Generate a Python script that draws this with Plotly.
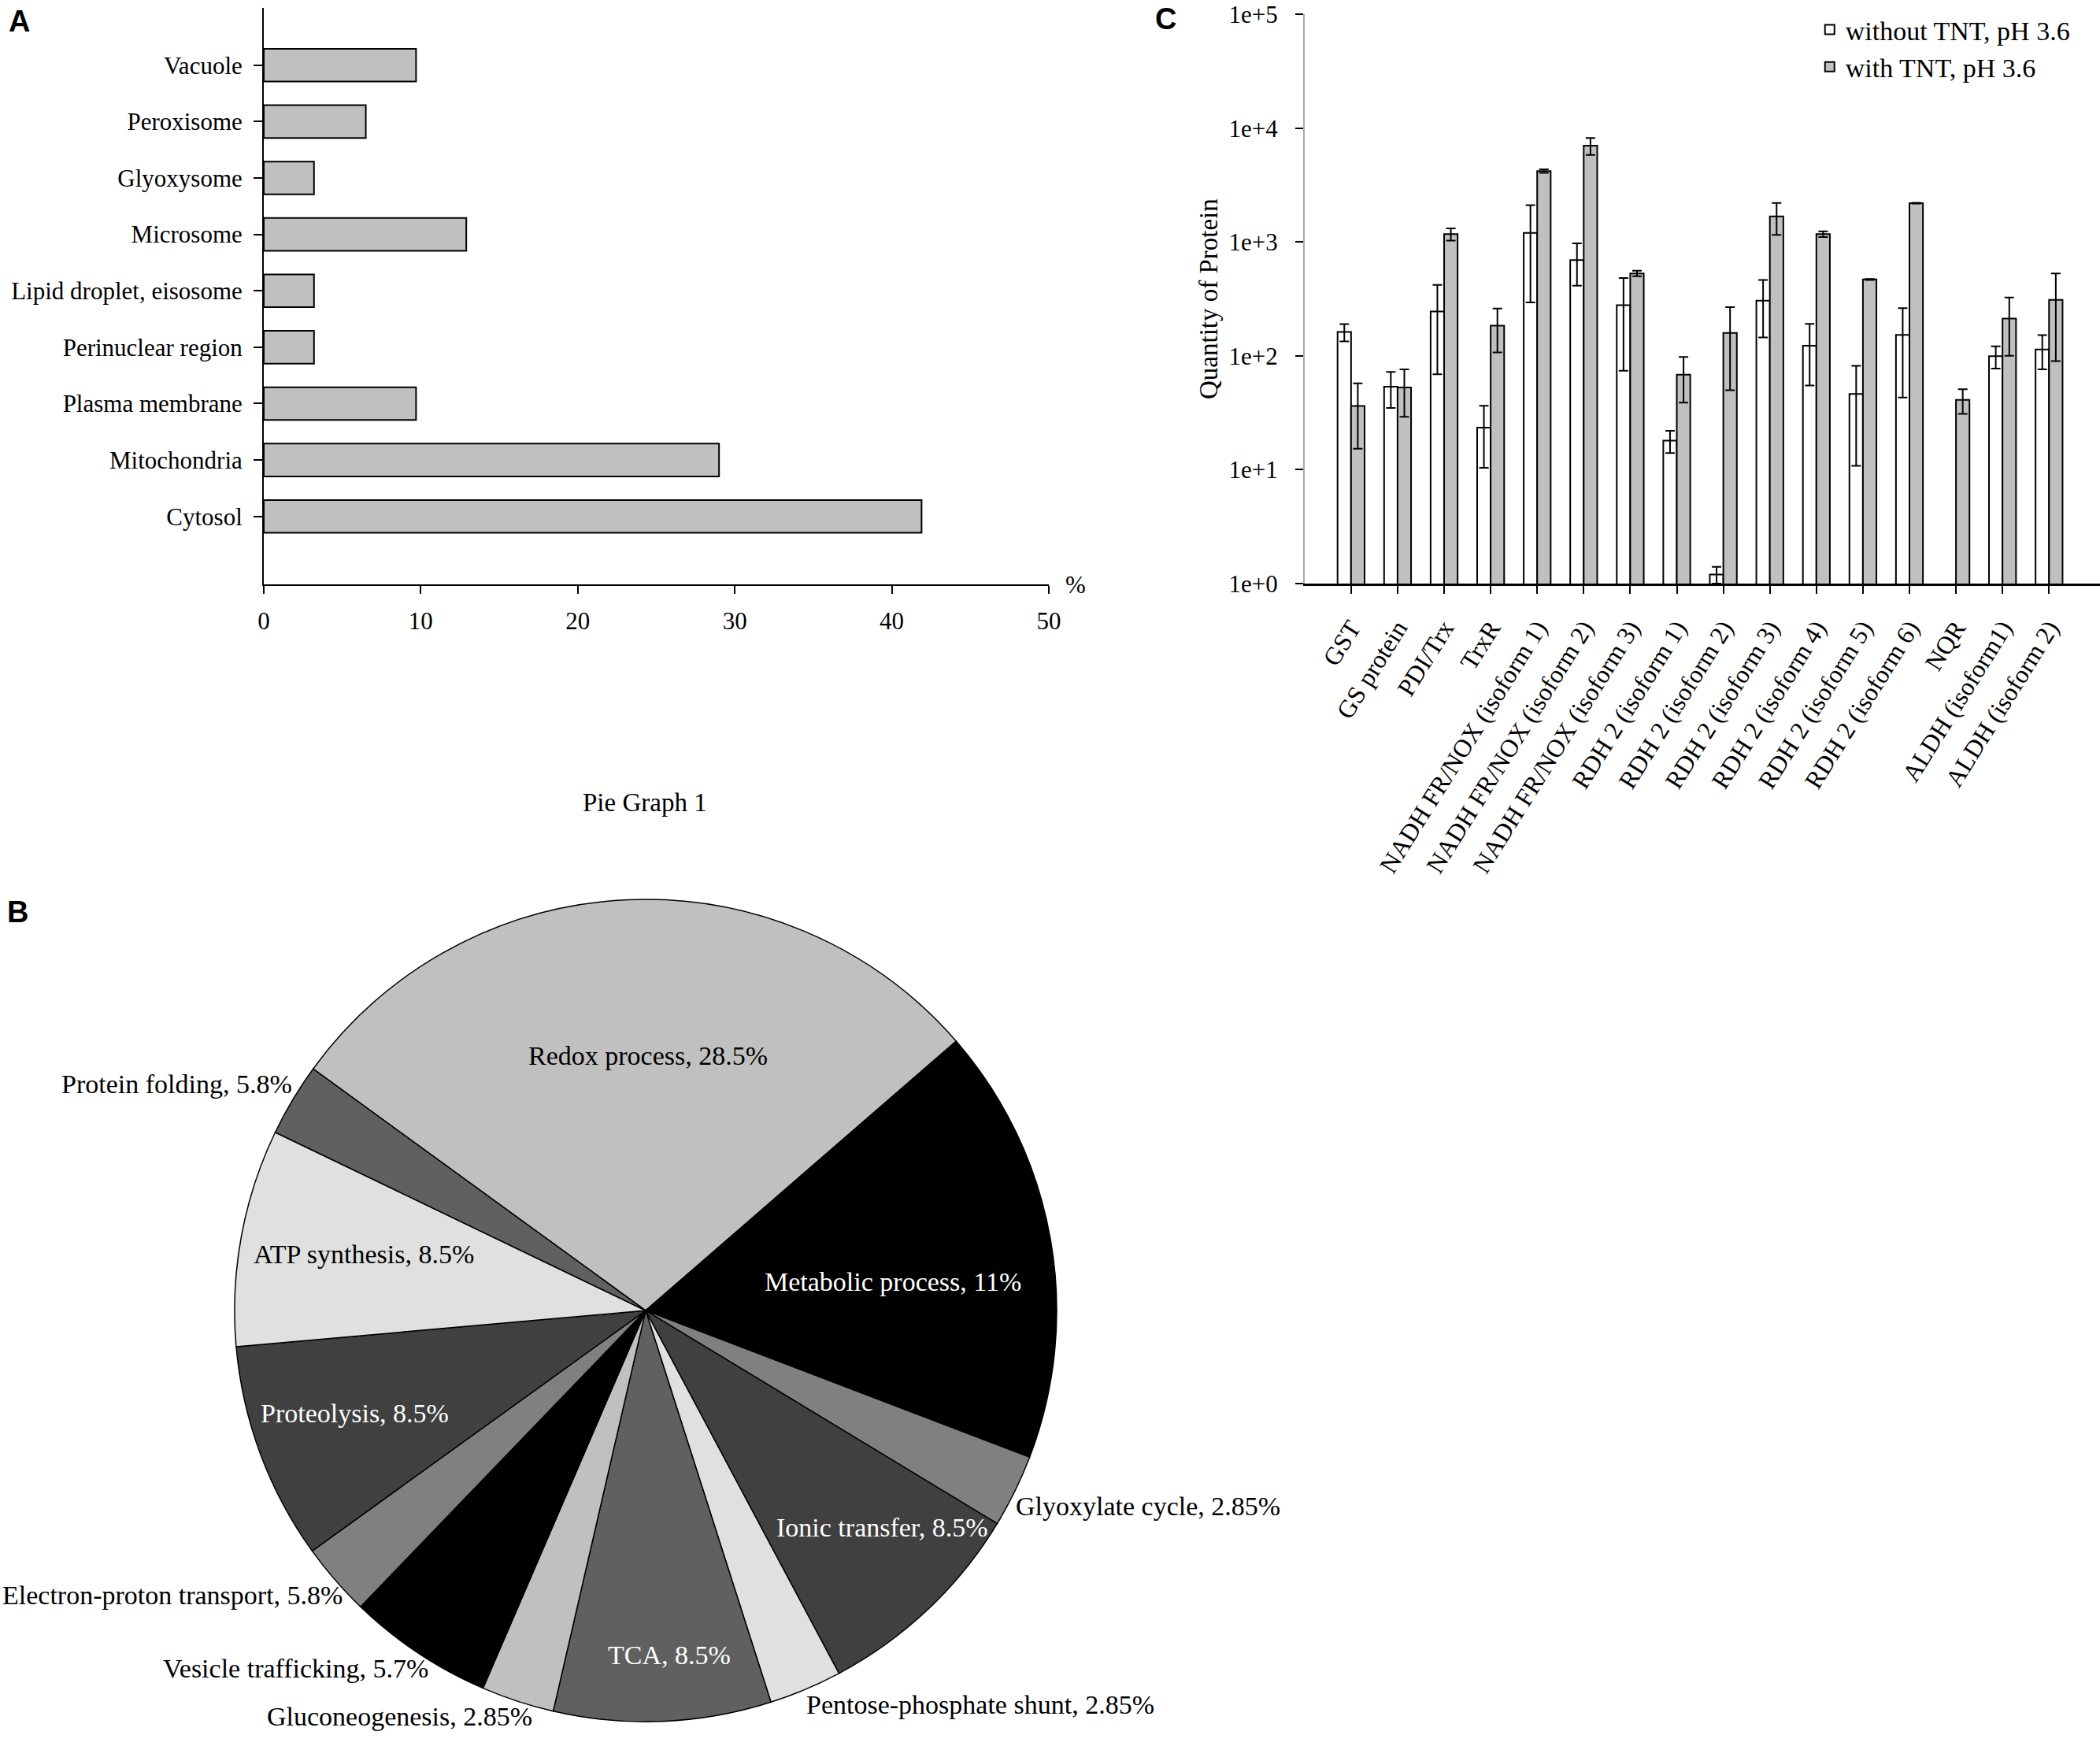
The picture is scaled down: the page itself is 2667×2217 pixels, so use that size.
import math
import plotly.graph_objects as go

# ---- Panel A: subcellular localisation of the proteins (%)
locations = ["Cytosol", "Mitochondria", "Plasma membrane", "Perinuclear region",
             "Lipid droplet, eisosome", "Microsome", "Glyoxysome", "Peroxisome", "Vacuole"]
location_pct = [41.9, 29.0, 9.7, 3.2, 3.2, 12.9, 3.2, 6.5, 9.7]

# ---- Panel B: biological process (slice sizes as drawn, labels as printed)
processes = ["Redox process", "Metabolic process", "Glyoxylate cycle", "Ionic transfer",
             "Pentose-phosphate shunt", "TCA", "Gluconeogenesis", "Vesicle trafficking",
             "Electron-proton transport", "Proteolysis", "ATP synthesis", "Protein folding"]
process_share = [28.5, 17.1, 2.85, 8.5, 2.85, 8.5, 2.85, 5.7, 2.85, 8.5, 8.5, 2.85]
process_labels = ["Redox process, 28.5%", "Metabolic process, 11%", "Glyoxylate cycle, 2.85%",
                  "Ionic transfer, 8.5%", "Pentose-phosphate shunt, 2.85%", "TCA, 8.5%",
                  "Gluconeogenesis, 2.85%", "Vesicle trafficking, 5.7%",
                  "Electron-proton transport, 5.8%", "Proteolysis, 8.5%",
                  "ATP synthesis, 8.5%", "Protein folding, 5.8%"]

# ---- Panel C: quantity of protein, mean and error
proteins = ["GST", "GS protein", "PDI/Trx", "TrxR",
            "NADH FR/NOX (isoform 1)", "NADH FR/NOX (isoform 2)", "NADH FR/NOX (isoform 3)",
            "RDH 2 (isoform 1)", "RDH 2 (isoform 2)", "RDH 2 (isoform 3)", "RDH 2 (isoform 4)",
            "RDH 2 (isoform 5)", "RDH 2 (isoform 6)", "NQR", "ALDH (isoform1)", "ALDH (isoform 2)"]
without_tnt = [162, 53.6, 245, 23.4, 1203, 693, 279, 18.0, 1.2, 305, 123, 46.3, 153, None, 99.3, 114]
without_err = [28, 18.7, 176, 13, 908, 280, 205, 4, 0.2, 160, 68, 35.5, 110, None, 22, 38]
with_tnt = [36.3, 52.7, 1175, 184, 4205, 7018, 530, 68.4, 159, 1679, 1175, 469, 2196, 41, 213, 310]
with_err = [21, 23.5, 145, 77, 150, 1200, 30, 29.6, 109, 525, 67, 5, 15, 10, 113, 220]
decade_ticks = [1, 10, 100, 1000, 10000, 100000]
decade_text = ["1e+0", "1e+1", "1e+2", "1e+3", "1e+4", "1e+5"]

W, H = 2667, 2217
serif = "Liberation Serif"
sans = "Liberation Sans"
grey = "#c0c0c0"
pie_colors = ["#c0c0c0", "#000000", "#808080", "#404040", "#e0e0e0", "#606060"] * 2
pie_textcol = ["black", "white", "black", "white", "black", "white",
               "black", "black", "black", "white", "black", "black"]
# big slices: label inside at (radial fraction, angle tweak in degrees)
inside_place = {0: (0.62, -3.0), 1: (0.605, -3.3), 3: (0.78, 4.1),
                5: (0.84, 1.6), 9: (0.75, -0.9), 10: (0.70, -0.9)}
# small slices: label hangs off the rim; optional x nudge in px
outside_nudge = {6: 20, 7: 14, 8: 10}
pie_dom_x = [0.1117, 0.5032]
pie_dom_y = [0.0139, 0.4849]
pie_rotation = -54

fig = go.Figure()

fig.add_trace(go.Bar(
    x=location_pct, y=locations, orientation="h",
    marker=dict(color=grey, line=dict(color="black", width=2)),
    xaxis="x", yaxis="y", showlegend=False, hoverinfo="x+y",
))

fig.add_trace(go.Pie(
    labels=processes, values=process_share, textinfo="none", sort=False,
    direction="clockwise", rotation=pie_rotation,
    marker=dict(colors=pie_colors, line=dict(color="black", width=1.5)),
    domain=dict(x=pie_dom_x, y=pie_dom_y),
    showlegend=False, hoverinfo="label+percent",
))

fig.add_trace(go.Bar(
    x=proteins, y=without_tnt, name="without TNT, pH 3.6",
    marker=dict(color="white", line=dict(color="black", width=2)),
    error_y=dict(type="data", array=without_err, color="black", thickness=2, width=6),
    xaxis="x2", yaxis="y2",
))
fig.add_trace(go.Bar(
    x=proteins, y=with_tnt, name="with TNT, pH 3.6",
    marker=dict(color=grey, line=dict(color="black", width=2)),
    error_y=dict(type="data", array=with_err, color="black", thickness=2, width=6),
    xaxis="x2", yaxis="y2",
))

# pie labels, placed from each slice's mid angle
cx = (pie_dom_x[0] + pie_dom_x[1]) / 2
cy = (pie_dom_y[0] + pie_dom_y[1]) / 2
radius = min((pie_dom_x[1] - pie_dom_x[0]) * W, (pie_dom_y[1] - pie_dom_y[0]) * H) / 2
total = sum(process_share)
start = 90 - pie_rotation
annotations = []
cum = 0
for i, v in enumerate(process_share):
    mid = start - 360 * (cum + v / 2) / total
    cum += v
    if i in inside_place:
        frac, tweak = inside_place[i]
        ang = math.radians(mid + tweak)
        xa, ya, nudge = "center", "middle", 0
    else:
        frac, ang = 1.0, math.radians(mid)
        xa = "left" if math.cos(ang) > 0 else "right"
        ya = "bottom" if math.sin(ang) > 0 else "top"
        nudge = outside_nudge.get(i, 0)
    annotations.append(dict(
        text=process_labels[i], xref="paper", yref="paper",
        x=cx + (frac * radius * math.cos(ang) + nudge) / W,
        y=cy + frac * radius * math.sin(ang) / H,
        xanchor=xa, yanchor=ya, showarrow=False, borderpad=0,
        font=dict(family=serif, size=34, color=pie_textcol[i]),
    ))

annotations += [
    dict(text="<b>A</b>", x=0.0092, y=0.9876, xref="paper", yref="paper",
         xanchor="center", yanchor="middle", showarrow=False,
         font=dict(family=sans, size=38)),
    dict(text="<b>B</b>", x=0.0083, y=0.4777, xref="paper", yref="paper",
         xanchor="center", yanchor="middle", showarrow=False,
         font=dict(family=sans, size=38)),
    dict(text="<b>C</b>", x=0.555, y=0.989, xref="paper", yref="paper",
         xanchor="center", yanchor="middle", showarrow=False,
         font=dict(family=sans, size=38)),
    dict(text="%", x=0.5122, y=0.6653, xref="paper", yref="paper",
         xanchor="center", yanchor="middle", showarrow=False, font=dict(size=31)),
    dict(text="Pie Graph 1", x=0.307, y=0.5405, xref="paper", yref="paper",
         xanchor="center", yanchor="middle", showarrow=False, font=dict(size=33)),
]

axis_common = dict(showgrid=False, zeroline=False, automargin=False,
                   ticks="outside", tickwidth=2, tickcolor="black")

fig.update_layout(
    width=W, height=H,
    margin=dict(l=0, r=0, t=0, b=0, autoexpand=False),
    paper_bgcolor="white", plot_bgcolor="white",
    font=dict(family=serif, size=31, color="black"),
    barmode="group", bargap=0.42, bargroupgap=0,
    xaxis=dict(domain=[0.1256, 0.4994], range=[0, 50], dtick=10,
               showline=True, linecolor="black", linewidth=2,
               ticklen=10, ticklabelstandoff=8,
               tickfont=dict(size=31), anchor="y", **axis_common),
    yaxis=dict(domain=[0.6653, 0.9953], range=[-1.205, 9.01],
               showline=True, linecolor="black", linewidth=2,
               ticklen=11, ticklabelstandoff=8,
               tickfont=dict(size=31), anchor="x", **axis_common),
    xaxis2=dict(domain=[0.6212, 1.0], range=[-1.0, 16.095], type="category",
                showline=True, linecolor="black", linewidth=3,
                ticklen=10, tickangle=-58, ticklabelstandoff=12,
                tickfont=dict(size=32), anchor="y2", **axis_common),
    yaxis2=dict(domain=[0.6658, 0.99175], type="log", range=[0, 5],
                tickvals=decade_ticks, ticktext=decade_text,
                showline=True, linecolor="#a8a8a8", linewidth=1.5,
                ticklen=10, ticklabelstandoff=16,
                tickfont=dict(size=31),
                title=dict(text="Quantity of Protein", font=dict(size=33), standoff=4),
                anchor="x2", **axis_common),
    legend=dict(x=0.8638, y=0.996, xanchor="left", yanchor="top",
                font=dict(family=serif, size=34), bgcolor="rgba(0,0,0,0)",
                tracegroupgap=0),
    annotations=annotations,
)

fig.write_html("out.html", config={"displayModeBar": False},
               post_script="document.body.style.margin='0';")
